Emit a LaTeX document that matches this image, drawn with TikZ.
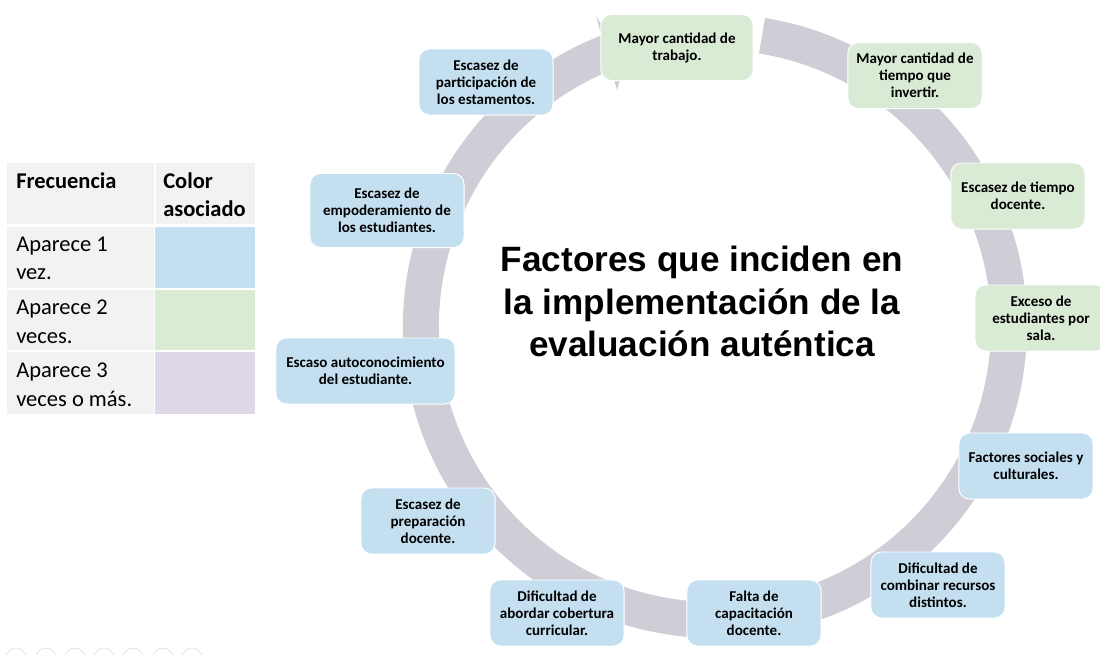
\documentclass[tikz,border=0pt]{standalone}
\usepackage{fontspec}
\setmainfont{Carlito}
\newfontfamily\titlefont{Liberation Sans}
\definecolor{ringc}{HTML}{CFCDD6}
\definecolor{blueb}{HTML}{C3DFF0}
\definecolor{greenb}{HTML}{D9EAD5}
\definecolor{purpleb}{HTML}{DFD6E8}
\definecolor{cellg}{HTML}{F2F2F2}
\tikzset{
  box/.style={draw=white,line width=0.7pt,rounded corners=7.5pt,align=center,inner sep=0pt,minimum width=3.35cm,minimum height=1.65cm,font=\fontsize{10.7}{12.1}\selectfont\bfseries,text=black},
  bluebox/.style={box,fill=blueb},
  greenbox/.style={box,fill=greenb},
  celltext/.style={anchor=north west,inner sep=0pt,align=left,font=\fontsize{16}{20}\selectfont,text=black},
  icon/.style={draw=black!12,line width=0.5pt},
}
\begin{document}
\begin{tikzpicture}[x=0.025cm,y=-0.025cm]
\useasboundingbox (0,0) rectangle (1100,654);
\clip (0,0) rectangle (1100,654);
% ring
\coordinate (c) at (715,326);
\draw[ringc,line width=0.9cm] (c) ++(80.8:7.35cm) arc[start angle=80.8,end angle=-250,radius=7.35cm];
\fill[ringc] (596,16) -- (617,90) -- (625,62) -- cycle;
% table
\fill[cellg] (7,163) rectangle (154,224);
\fill[cellg] (156,163) rectangle (255,224);
\fill[cellg] (7,227) rectangle (154,288);
\fill[blueb] (155,227) rectangle (255,288);
\fill[cellg] (7,290) rectangle (154,350);
\fill[greenb] (155,290) rectangle (255,350);
\fill[cellg] (7,352) rectangle (154,414);
\fill[purpleb] (155,352) rectangle (255,414);
\node[celltext,font=\fontsize{16}{20}\selectfont\bfseries] (h1) at (16,172) {Frecuencia};
\node[celltext,font=\fontsize{16}{20}\selectfont\bfseries] (h2) at (163,172) {Color\\asociado};
\node[celltext] (r1) at (16,237) {Aparece 1\\vez.};
\node[celltext] (r2) at (16,300) {Aparece 2\\veces.};
\node[celltext] (r3) at (16,363) {Aparece 3\\veces o más.};
% boxes
\node[greenbox,minimum width=3.8cm] (n1) at (677,47.5) {Mayor cantidad de\\trabajo.};
\node[greenbox] (n2) at (915,75.5) {Mayor cantidad de\\tiempo que\\invertir.};
\node[greenbox] (n3) at (1018,196) {Escasez de tiempo\\docente.};
\node[greenbox,minimum width=3.3cm] (n4) at (1041,318) {Exceso de\\estudiantes por\\sala.};
\node[bluebox] (n5) at (1026,466) {Factores sociales y\\culturales.};
\node[bluebox] (n6) at (938,585) {Dificultad de\\combinar recursos\\distintos.};
\node[bluebox] (n7) at (754,613) {Falta de\\capacitación\\docente.};
\node[bluebox] (n8) at (557,613) {Dificultad de\\abordar cobertura\\curricular.};
\node[bluebox] (n9) at (428,521) {Escasez de\\preparación\\docente.};
\node[bluebox,minimum width=4.48cm] (n10) at (365.5,371) {Escaso autoconocimiento\\del estudiante.};
\node[bluebox,minimum width=3.85cm,minimum height=1.85cm] (n11) at (387,210.5) {Escasez de\\empoderamiento de\\los estudiantes.};
\node[bluebox] (n12) at (486,82) {Escasez de\\participación de\\los estamentos.};
% title
\node[align=center,inner sep=0pt,text=black,font=\titlefont\fontsize{25}{30}\selectfont\bfseries] (t) at (702,301.5) {Factores que inciden en\\la implementación de la\\evaluación auténtica};
% faint icons
\foreach \i/\xx in {a/16,b/46,d/75,e/104,f/133,g/163,h/192}{
  \node[icon,circle,minimum size=0.5cm,inner sep=0pt] (ic\i) at (\xx,658) {};
}
\end{tikzpicture}
\end{document}
